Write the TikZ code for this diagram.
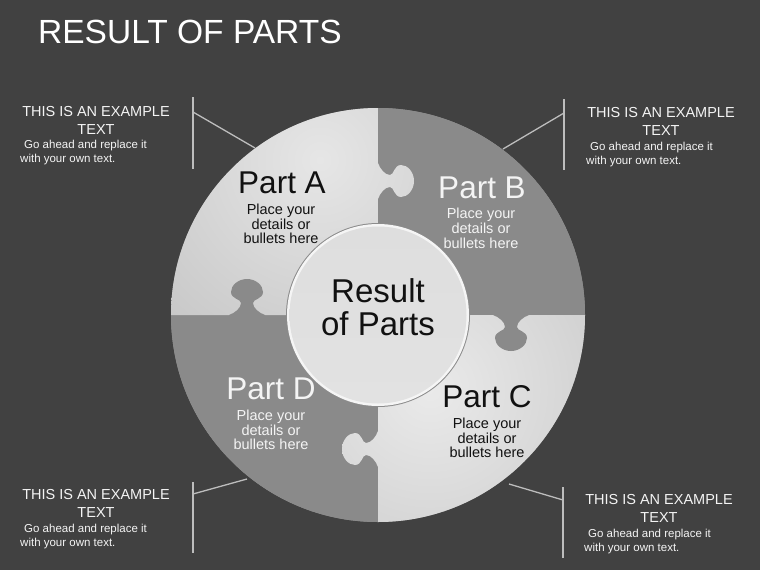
\documentclass[tikz,border=0pt]{standalone}
\usepackage{fontspec}
\setmainfont{Liberation Sans}
\definecolor{bg}{HTML}{414141}
\definecolor{darkpc}{HTML}{8A8A8A}
\definecolor{linec}{HTML}{BDBDBD}
\definecolor{txtw}{HTML}{F4F4F4}
\definecolor{txtb}{HTML}{111111}
\newcommand\knobfill[1]{\fill[#1] (-2,-18) -- (0,-18) .. controls (2,-12) and (7,-6) .. (12,-6) .. controls (16,-6) and (16,-16) .. (23,-16) .. controls (29.6,-16) and (36,-8.8) .. (36,0) .. controls (36,8.8) and (29.6,16) .. (23,16) .. controls (16,16) and (16,6) .. (12,6) .. controls (7,6) and (2,12) .. (0,18) -- (-2,18) -- cycle;}
\newcommand\knobclip[1]{\clip[#1] (-2,-18) -- (0,-18) .. controls (2,-12) and (7,-6) .. (12,-6) .. controls (16,-6) and (16,-16) .. (23,-16) .. controls (29.6,-16) and (36,-8.8) .. (36,0) .. controls (36,8.8) and (29.6,16) .. (23,16) .. controls (16,16) and (16,6) .. (12,6) .. controls (7,6) and (2,12) .. (0,18) -- (-2,18) -- cycle;}
\newcommand\shadeA{\shade[inner color={rgb,255:red,230;green,230;blue,230}, outer color={rgb,255:red,170;green,170;blue,170}] (-120,-280) rectangle (760,600);}
\newcommand\shadeC{\shade[inner color={rgb,255:red,234;green,234;blue,234}, outer color={rgb,255:red,172;green,172;blue,172}] (-10,-50) rectangle (870,830);}
\tikzset{
  calltitle/.style={font=\fontsize{14.5}{16}\selectfont, text=txtw, anchor=base, inner sep=0pt},
  callbody/.style={font=\fontsize{11.5}{13}\selectfont, text=txtw, anchor=base west, inner sep=0pt},
  parttitle/.style={font=\fontsize{31.5}{33}\selectfont, anchor=base, inner sep=0pt},
  partbody/.style={font=\fontsize{14.5}{15}\selectfont, anchor=base, inner sep=0pt},
  centertext/.style={font=\fontsize{33}{35}\selectfont, text=txtb, anchor=base, inner sep=0pt},
  leader/.style={draw=linec, line width=1.3pt},
}
\begin{document}
\begin{tikzpicture}[x=1pt,y=-1pt]
\useasboundingbox (0,0) rectangle (760,570);
\fill[bg] (0,0) rectangle (760,570);
% title
\node[font=\fontsize{33.5}{36}\selectfont, text=white, anchor=base west, inner sep=0pt] (title) at (38,43) {RESULT OF PARTS};
% base disc
\coordinate (O) at (378,315);
\fill[darkpc!90!white] (O) circle (207);
% dark sectors
\fill[darkpc] (378,315) -- (378,108) arc[start angle=270, end angle=360, radius=207] -- cycle;
\fill[darkpc] (378,315) -- (378,522) arc[start angle=90, end angle=180, radius=207] -- cycle;
% light sector A and its knob
\begin{scope}
  \clip (378,315) -- (171,315) arc[start angle=180, end angle=270, radius=207] -- cycle;
  \shadeA
\end{scope}
\begin{scope}
  \knobclip{shift={(378,181)}}
  \shadeA
\end{scope}
% light sector C and its knob
\begin{scope}
  \clip (378,315) -- (585,315) arc[start angle=0, end angle=90, radius=207] -- cycle;
  \shadeC
\end{scope}
\begin{scope}
  \knobclip{shift={(378,449)}, x={(-1pt,0pt)}, y={(0pt,-1pt)}}
  \shadeC
\end{scope}
% dark knobs
\knobfill{darkpc, shift={(247,315)}, x={(0pt,1pt)}, y={(1pt,0pt)}}
\knobfill{darkpc, shift={(511,315)}, x={(0pt,-1pt)}, y={(1pt,0pt)}}
% center disc
\fill[black!45] (O) circle (92);
\fill[white!96!black] (O) circle (91);
\shade[top color={rgb,255:red,222;green,222;blue,222}, middle color={rgb,255:red,205;green,205;blue,205}, bottom color={rgb,255:red,226;green,226;blue,226}] (O) circle (88.5);
\node[centertext] (res1) at (378,302) {Result};
\node[centertext] (res2) at (378,335) {of Parts};
% part texts
\node[parttitle, text=txtb] (pa) at (282,193) {Part A};
\node[partbody, text=txtb] (pa1) at (281,214) {Place your};
\node[partbody, text=txtb] (pa2) at (281,229) {details or};
\node[partbody, text=txtb] (pa3) at (281,243) {bullets here};
\node[parttitle, text=txtw] (pb) at (482,198) {Part B};
\node[partbody, text=txtw] (pb1) at (481,218) {Place your};
\node[partbody, text=txtw] (pb2) at (481,233) {details or};
\node[partbody, text=txtw] (pb3) at (481,248) {bullets here};
\node[parttitle, text=txtb] (pc) at (487,407) {Part C};
\node[partbody, text=txtb] (pc1) at (487,428) {Place your};
\node[partbody, text=txtb] (pc2) at (487,443) {details or};
\node[partbody, text=txtb] (pc3) at (487,457) {bullets here};
\node[parttitle, text=txtw] (pd) at (271,399) {Part D};
\node[partbody, text=txtw] (pd1) at (271,420) {Place your};
\node[partbody, text=txtw] (pd2) at (271,435) {details or};
\node[partbody, text=txtw] (pd3) at (271,449) {bullets here};
% callouts
\node[calltitle] (tl1) at (96,116) {THIS IS AN EXAMPLE};
\node[calltitle] (tl2) at (96,134) {TEXT};
\node[callbody] (tl3) at (20,148) {\hspace*{4pt}Go ahead and replace it};
\node[callbody] (tl4) at (20,162) {with your own text.};
\node[calltitle] (tr1) at (661,117) {THIS IS AN EXAMPLE};
\node[calltitle] (tr2) at (661,135) {TEXT};
\node[callbody] (tr3) at (586,150) {\hspace*{4pt}Go ahead and replace it};
\node[callbody] (tr4) at (586,164) {with your own text.};
\node[calltitle] (bl1) at (96,499) {THIS IS AN EXAMPLE};
\node[calltitle] (bl2) at (96,517) {TEXT};
\node[callbody] (bl3) at (20,532) {\hspace*{4pt}Go ahead and replace it};
\node[callbody] (bl4) at (20,546) {with your own text.};
\node[calltitle] (br1) at (659,504) {THIS IS AN EXAMPLE};
\node[calltitle] (br2) at (659,522) {TEXT};
\node[callbody] (br3) at (584,537) {\hspace*{4pt}Go ahead and replace it};
\node[callbody] (br4) at (584,551) {with your own text.};
% leader lines
\coordinate (tlT) at (193,97);  \coordinate (tlB) at (193,169);
\coordinate (tlJ) at (193,112); \coordinate (tlE) at (255,148);
\coordinate (trT) at (564,99);  \coordinate (trB) at (564,170);
\coordinate (trJ) at (564,113); \coordinate (trE) at (503,149);
\coordinate (blT) at (193,482); \coordinate (blB) at (193,553);
\coordinate (blJ) at (193,494); \coordinate (blE) at (247,479);
\coordinate (brT) at (563,487); \coordinate (brB) at (563,558);
\coordinate (brJ) at (563,500); \coordinate (brE) at (509,484);
\draw[leader] (tlT) -- (tlB);
\draw[leader] (tlJ) -- (tlE);
\draw[leader] (trT) -- (trB);
\draw[leader] (trJ) -- (trE);
\draw[leader] (blT) -- (blB);
\draw[leader] (blJ) -- (blE);
\draw[leader] (brT) -- (brB);
\draw[leader] (brJ) -- (brE);
\end{tikzpicture}
\end{document}
